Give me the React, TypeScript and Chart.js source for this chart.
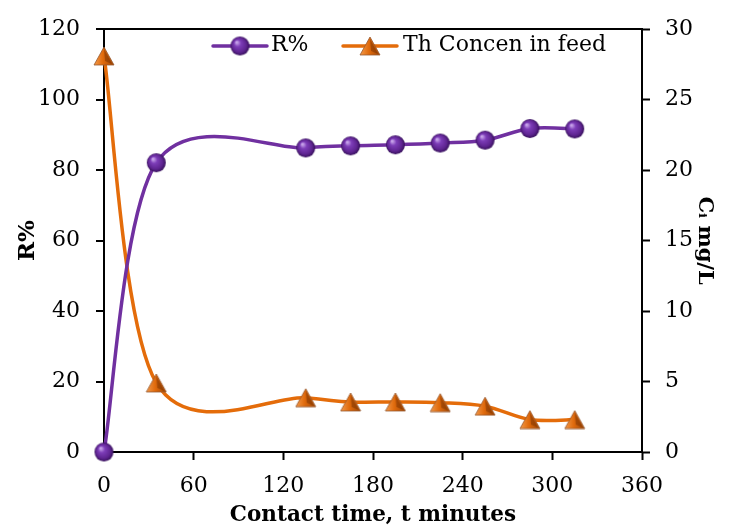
import React, { useEffect, useRef } from "react";
import { Chart, registerables } from "chart.js";

Chart.register(...registerables);

const timeMin = [0, 35, 135, 165, 195, 225, 255, 285, 315];
const removalPct = [0, 82.1, 86.3, 86.9, 87.2, 87.7, 88.5, 91.8, 91.7];
const thConc = [28.1, 4.9, 3.85, 3.55, 3.55, 3.5, 3.25, 2.3, 2.3];
const seriesNames = ["R%", "Th Concen in feed"];
const xTitle = "Contact time, t minutes";
const yTitle = "R%";
const y1Title = "Cᵢ mg/L";

const PURPLE = "#7030A0";
const ORANGE = "#E46C0A";
const TICK_FONT = { family: "DejaVu Serif", size: 22 };

function makeSphere(r: number) {
  const s = Math.ceil(r * 2 + 2);
  const c = document.createElement("canvas");
  c.width = s;
  c.height = s;
  const g = c.getContext("2d")!;
  const cx = s / 2;
  const grad = g.createRadialGradient(cx - r * 0.35, cx - r * 0.4, r * 0.08, cx, cx, r);
  grad.addColorStop(0, "#c7a3ea");
  grad.addColorStop(0.3, "#7d3db8");
  grad.addColorStop(0.75, "#5e2490");
  grad.addColorStop(1, "#36105a");
  g.fillStyle = grad;
  g.beginPath();
  g.arc(cx, cx, r, 0, Math.PI * 2);
  g.fill();
  return c;
}

function makeTriangle(w: number, h: number) {
  const c = document.createElement("canvas");
  c.width = w + 2;
  c.height = h + 2;
  const g = c.getContext("2d")!;
  const cx = (w + 2) / 2;
  const top = 1;
  const bot = h + 1;
  g.beginPath();
  g.moveTo(cx, top);
  g.lineTo(1, bot);
  g.lineTo(w + 1, bot);
  g.closePath();
  const grad = g.createLinearGradient(1, 0, w + 1, 0);
  grad.addColorStop(0, "#f39a4a");
  grad.addColorStop(0.45, "#e06a0c");
  grad.addColorStop(1, "#a24805");
  g.fillStyle = grad;
  g.fill();
  g.beginPath();
  g.moveTo(cx, top + 2);
  g.lineTo(cx + 1, bot - 4);
  g.lineTo(w - 1, bot - 1);
  g.closePath();
  g.fillStyle = "rgba(110,45,0,0.45)";
  g.fill();
  g.beginPath();
  g.moveTo(cx, top);
  g.lineTo(1, bot);
  g.lineTo(w + 1, bot);
  g.closePath();
  g.strokeStyle = "rgba(150,90,50,0.8)";
  g.lineWidth = 1;
  g.stroke();
  return c;
}

// Excel-like smoothing: uniform Catmull-Rom control points (1/6 factor)
const smoothPlugin = {
  id: "excelSmooth",
  beforeDatasetDraw(chart: any, args: any) {
    const meta = args.meta;
    if (!meta || !meta.dataset) return;
    meta.dataset.updateControlPoints(chart.chartArea, "x");
    const pts = meta.data;
    const n = pts.length;
    for (let i = 0; i < n; i++) {
      const p = pts[i];
      const prev = pts[Math.max(0, i - 1)];
      const next = pts[Math.min(n - 1, i + 1)];
      const dx = (next.x - prev.x) / 6;
      const dy = (next.y - prev.y) / 6;
      p.cp1x = p.x - dx;
      p.cp1y = p.y - dy;
      p.cp2x = p.x + dx;
      p.cp2y = p.y + dy;
    }
  },
};

export default function App() {
  const ref = useRef<HTMLCanvasElement | null>(null);

  useEffect(() => {
    document.body.style.margin = "0";
    const canvas = ref.current!;
    const sphere = makeSphere(9.5);
    const tri = makeTriangle(20, 18);

    const legendPlugin = {
      id: "customLegend",
      afterDraw(chart: any) {
        const ctx = chart.ctx;
        ctx.save();
        const y = 46;
        const items = [
          { x0: 213, x1: 267, color: PURPLE, img: sphere, tx: 271, text: seriesNames[0] },
          { x0: 343, x1: 397, color: ORANGE, img: tri, tx: 403, text: seriesNames[1] },
        ];
        for (const it of items) {
          ctx.strokeStyle = it.color;
          ctx.lineWidth = 3.5;
          ctx.lineCap = "round";
          ctx.beginPath();
          ctx.moveTo(it.x0, y);
          ctx.lineTo(it.x1, y);
          ctx.stroke();
          const cx = (it.x0 + it.x1) / 2;
          ctx.drawImage(it.img, cx - it.img.width / 2, y - it.img.height / 2);
          ctx.fillStyle = "#000";
          ctx.font = "22px 'DejaVu Serif'";
          ctx.textAlign = "left";
          ctx.textBaseline = "middle";
          ctx.fillText(it.text, it.tx, y - 1);
        }
        ctx.restore();
      },
    };

    const chart = new Chart(canvas, {
      type: "line",
      data: {
        datasets: [
          {
            label: seriesNames[0],
            data: timeMin.map((t, i) => ({ x: t, y: removalPct[i] })),
            borderColor: PURPLE,
            borderWidth: 3.5,
            pointStyle: sphere as any,
            tension: 0.4,
            yAxisID: "y",
            clip: false as any,
          },
          {
            label: seriesNames[1],
            data: timeMin.map((t, i) => ({ x: t, y: thConc[i] })),
            borderColor: ORANGE,
            borderWidth: 3.5,
            pointStyle: tri as any,
            tension: 0.4,
            yAxisID: "y1",
            clip: false as any,
          },
        ],
      },
      plugins: [smoothPlugin, legendPlugin],
      options: {
        responsive: false,
        animation: false,
        layout: { padding: { top: 25, left: 0, right: 0, bottom: 0 } },
        plugins: { legend: { display: false }, tooltip: { enabled: false } },
        scales: {
          x: {
            type: "linear",
            position: "bottom",
            min: 0,
            max: 360,
            ticks: { stepSize: 60, color: "#000", font: TICK_FONT, padding: 13, maxRotation: 0 },
            grid: { drawOnChartArea: false, tickLength: 8, tickColor: "#000", tickWidth: 2 },
            border: { display: true, color: "#000", width: 2 },
            title: {
              display: true,
              text: xTitle,
              color: "#000",
              font: { family: "DejaVu Serif", size: 21.5, weight: "bold", lineHeight: 1.07 },
              padding: 0,
            },
            afterFit: (s: any) => {
              s.height = 75;
            },
          },
          y: {
            type: "linear",
            position: "left",
            min: 0,
            max: 120,
            ticks: { stepSize: 20, color: "#000", font: TICK_FONT, padding: 16 },
            grid: {
              color: (c: any) => (c.tick && c.tick.value === 120 ? "#000" : "rgba(0,0,0,0)"),
              lineWidth: 2,
              tickLength: 8,
              tickColor: "#000",
              tickWidth: 2,
            },
            border: { display: true, color: "#000", width: 2 },
            title: {
              display: true,
              text: yTitle,
              color: "#000",
              font: { family: "DejaVu Serif", size: 23, weight: "bold", lineHeight: 1.2 },
              padding: { top: 14, bottom: 0 },
            },
            afterFit: (s: any) => {
              s.width = 104;
            },
          },
          y1: {
            type: "linear",
            position: "right",
            min: 0,
            max: 30,
            ticks: { stepSize: 5, color: "#000", font: TICK_FONT, padding: 15 },
            grid: { drawOnChartArea: false, tickLength: 8, tickColor: "#000", tickWidth: 2 },
            border: { display: true, color: "#000", width: 2 },
            title: {
              display: true,
              text: y1Title,
              color: "#000",
              font: { family: "DejaVu Serif", size: 21, weight: "bold", lineHeight: 1.2 },
              padding: { top: 14, bottom: 0 },
            },
            afterFit: (s: any) => {
              s.width = 89;
            },
          },
        },
      } as any,
    });
    return () => chart.destroy();
  }, []);

  return <canvas ref={ref} width={731} height={527} style={{ display: "block" }} />;
}
